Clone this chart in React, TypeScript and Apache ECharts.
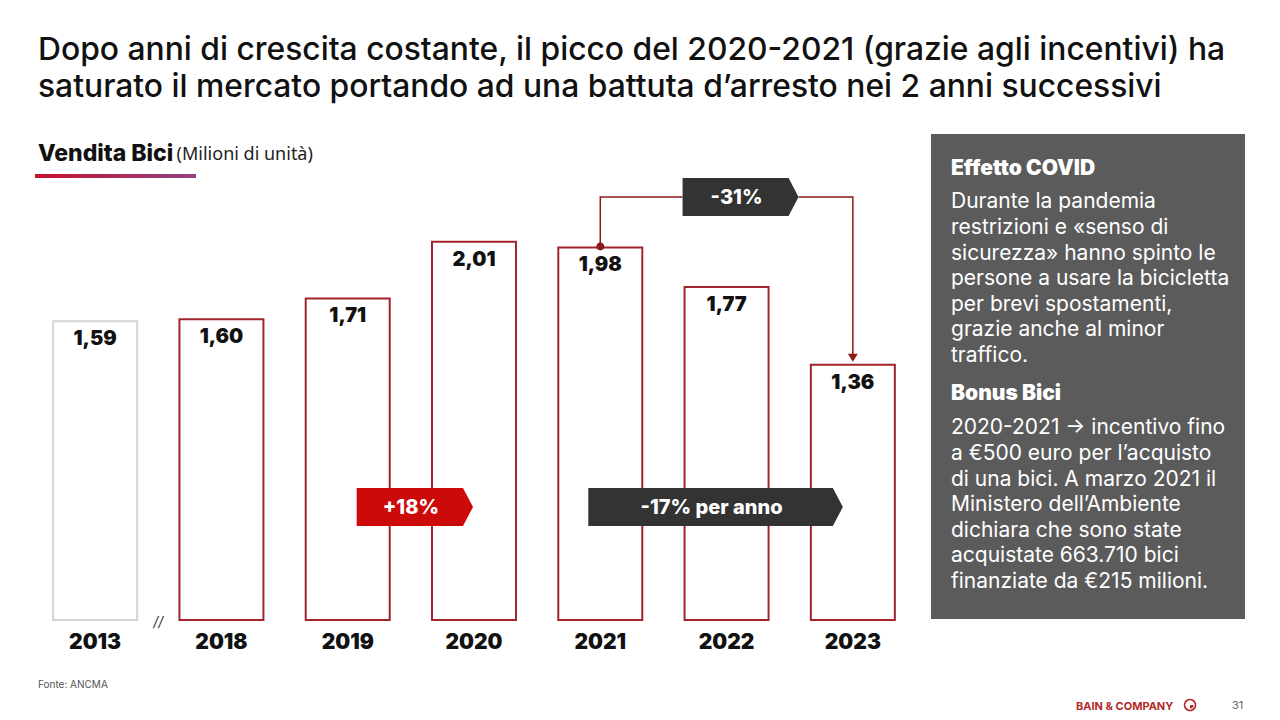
import React, { useEffect, useRef } from 'react';
import * as echarts from 'echarts';

const years = ['2013', '2018', '2019', '2020', '2021', '2022', '2023'];
const sales = [1.59, 1.6, 1.71, 2.01, 1.98, 1.77, 1.36];

const titleLines = [
  'Dopo anni di crescita costante, il picco del 2020-2021 (grazie agli incentivi) ha',
  'saturato il mercato portando ad una battuta d\u2019arresto nei 2 anni successivi',
];
const subtitleBold = 'Vendita Bici';
const subtitleUnit = '(Milioni di unità)';
const growthLabel = '+18%';
const declineLabel = '-17% per anno';
const dropLabel = '-31%';

const covidTitle = 'Effetto COVID';
const covidLines = [
  'Durante la pandemia',
  'restrizioni e «senso di',
  'sicurezza» hanno spinto le',
  'persone a usare la bicicletta',
  'per brevi spostamenti,',
  'grazie anche al minor',
  'traffico.',
];
const bonusTitle = 'Bonus Bici';
const bonusLines = [
  '2020-2021 \u2192 incentivo fino',
  'a €500 euro per l\u2019acquisto',
  'di una bici. A marzo 2021 il',
  'Ministero dell\u2019Ambiente',
  'dichiara che sono state',
  'acquistate 663.710 bici',
  'finanziate da €215 milioni.',
];
const sourceText = 'Fonte: ANCMA';
const brandText = 'BAIN & COMPANY';
const pageNumber = '31';

const FONT = 'Inter, "Noto Sans", sans-serif';
const RED = '#a3242a';
const DARK = '#333333';

export default function App() {
  const ref = useRef<HTMLDivElement>(null);

  useEffect(() => {
    const chart = echarts.init(ref.current!, null, { renderer: 'svg' });
    chart.setOption({
      animation: false,
      backgroundColor: '#ffffff',
      grid: { left: 32, right: 364, top: 148, bottom: 99 },
      xAxis: {
        type: 'category',
        data: years,
        axisLine: { show: false },
        axisTick: { show: false },
        axisLabel: {
          margin: 10,
          color: '#111',
          fontFamily: FONT,
          fontSize: 21,
          fontWeight: 900,
        },
      },
      yAxis: { type: 'value', min: 0, max: 2.5, show: false, splitLine: { show: false } },
      series: [
        {
          type: 'bar',
          data: sales.map((v, i) => ({
            value: v,
            itemStyle: {
              color: '#ffffff',
              borderColor: i === 0 ? '#d4d4d4' : RED,
              borderWidth: 2,
            },
          })),
          barWidth: 86,
          label: {
            show: true,
            position: 'insideTop',
            distance: 8,
            formatter: (p: any) => p.value.toFixed(2).replace('.', ','),
            color: '#111',
            fontFamily: FONT,
            fontSize: 20,
            fontWeight: 900,
          },
        },
      ],
    });

    const px = (i: number, v: number) => chart.convertToPixel({ seriesIndex: 0 }, [i, v]) as number[];
    const base = px(0, 0)[1];
    const cx = (i: number) => px(i, 0)[0];
    const top = (i: number) => px(i, sales[i])[1];

    const arrowBox = (l: number, r: number, t: number, b: number, fill: string, text: string) => [
      {
        type: 'polygon',
        shape: {
          points: [
            [l, t],
            [r - 10, t],
            [r, (t + b) / 2],
            [r - 10, b],
            [l, b],
          ],
        },
        style: { fill },
        z: 10,
      },
      {
        type: 'text',
        style: {
          text,
          x: (l + r - 8) / 2,
          y: (t + b) / 2,
          textAlign: 'center',
          textVerticalAlign: 'middle',
          fill: '#fff',
          fontFamily: FONT,
          fontSize: 20,
          fontWeight: 800,
        },
        z: 11,
      },
    ];

    const i19 = 2, i20 = 3, i21 = 4, i22 = 5, i23 = 6;
    const lowT = base - 133, lowB = base - 95;
    const hiT = 178, hiB = 216;
    const dropL = cx(i22) - 44, dropR = cx(i22) + 72;
    const connY = (hiT + hiB) / 2;

    const panelText = (text: string, y: number) => ({
      type: 'text',
      style: {
        text,
        x: 951,
        y,
        textVerticalAlign: 'top',
        lineHeight: 25.6,
        fill: '#fff',
        fontFamily: FONT,
        fontSize: 21,
      },
    });
    const panelHead = (text: string, y: number) => ({
      type: 'text',
      style: {
        text,
        x: 951,
        y,
        textVerticalAlign: 'middle',
        fill: '#fff',
        fontFamily: FONT,
        fontSize: 21,
        fontWeight: 900,
      },
    });

    const graphic: any[] = [
      ...titleLines.map((t, k) => ({
        type: 'text',
        style: {
          text: t,
          x: 38,
          y: 48 + k * 37,
          textVerticalAlign: 'middle',
          fill: '#111',
          fontFamily: FONT,
          fontSize: 31.8,
          fontWeight: 500,
        },
      })),
      {
        type: 'text',
        style: {
          text: `{b|${subtitleBold}} {r|${subtitleUnit}}`,
          x: 38,
          y: 153,
          textVerticalAlign: 'middle',
          rich: {
            b: { fontFamily: FONT, fontSize: 23, fontWeight: 800, fill: '#111', color: '#111' },
            r: { fontFamily: '"Noto Sans", sans-serif', fontSize: 18, fill: '#222', color: '#222' },
          },
        },
      },
      {
        type: 'rect',
        shape: { x: 35, y: 174, width: 161, height: 4 },
        style: {
          fill: new echarts.graphic.LinearGradient(0, 0, 1, 0, [
            { offset: 0, color: '#c8102e' },
            { offset: 1, color: '#8e4382' },
          ]),
        },
      },
      {
        type: 'text',
        style: {
          text: '//',
          x: (cx(0) + cx(1)) / 2,
          y: base,
          textAlign: 'center',
          textVerticalAlign: 'middle',
          fill: '#333',
          fontFamily: FONT,
          fontSize: 14,
          fontStyle: 'italic',
        },
      },
      ...arrowBox(cx(i19) + 9, cx(i20) - 1, lowT, lowB, '#cc0a0a', growthLabel),
      ...arrowBox(cx(i21) - 12, cx(i23) - 10, lowT, lowB, DARK, declineLabel),
      ...arrowBox(dropL, dropR, hiT, hiB, DARK, dropLabel),
      {
        type: 'polyline',
        shape: { points: [[cx(i21), top(i21)], [cx(i21), connY], [dropL, connY]] },
        style: { stroke: '#8b1a1a', lineWidth: 1.5, fill: 'none' },
        z: 9,
      },
      {
        type: 'polyline',
        shape: { points: [[dropR, connY], [cx(i23), connY], [cx(i23), top(i23) - 8]] },
        style: { stroke: '#8b1a1a', lineWidth: 1.5, fill: 'none' },
        z: 9,
      },
      {
        type: 'polygon',
        shape: {
          points: [
            [cx(i23) - 5, top(i23) - 10],
            [cx(i23) + 5, top(i23) - 10],
            [cx(i23), top(i23) - 2],
          ],
        },
        style: { fill: '#8b1a1a' },
        z: 9,
      },
      {
        type: 'circle',
        shape: { cx: cx(i21), cy: top(i21), r: 4 },
        style: { fill: '#8b1a1a' },
        z: 12,
      },
      {
        type: 'rect',
        shape: { x: 931, y: 134, width: 314, height: 485 },
        style: { fill: '#5b5b5b' },
      },
      panelHead(covidTitle, 167),
      panelText(covidLines.join('\n'), 188),
      panelHead(bonusTitle, 392),
      panelText(bonusLines.join('\n'), 414),
      {
        type: 'text',
        style: {
          text: sourceText,
          x: 38,
          y: 684,
          textVerticalAlign: 'middle',
          fill: '#555',
          fontFamily: FONT,
          fontSize: 10,
        },
      },
      {
        type: 'text',
        style: {
          text: brandText,
          x: 1076,
          y: 706,
          textVerticalAlign: 'middle',
          fill: '#b22a2a',
          fontFamily: FONT,
          fontSize: 11,
          fontWeight: 700,
        },
      },
      {
        type: 'circle',
        shape: { cx: 1190, cy: 705, r: 5.5 },
        style: { fill: 'none', stroke: '#b22a2a', lineWidth: 1.5 },
      },
      {
        type: 'sector',
        shape: { cx: 1190, cy: 705, r: 3.5, r0: 0, startAngle: 0, endAngle: Math.PI / 2 },
        style: { fill: '#b22a2a' },
      },
      {
        type: 'text',
        style: {
          text: pageNumber,
          x: 1232,
          y: 705,
          textVerticalAlign: 'middle',
          fill: '#666',
          fontFamily: FONT,
          fontSize: 11,
        },
      },
    ];

    chart.setOption({ graphic });
    return () => chart.dispose();
  }, []);

  return (
    <div
      ref={ref}
      style={{ position: 'fixed', left: 0, top: 0, width: 1280, height: 720, background: '#fff' }}
    />
  );
}
